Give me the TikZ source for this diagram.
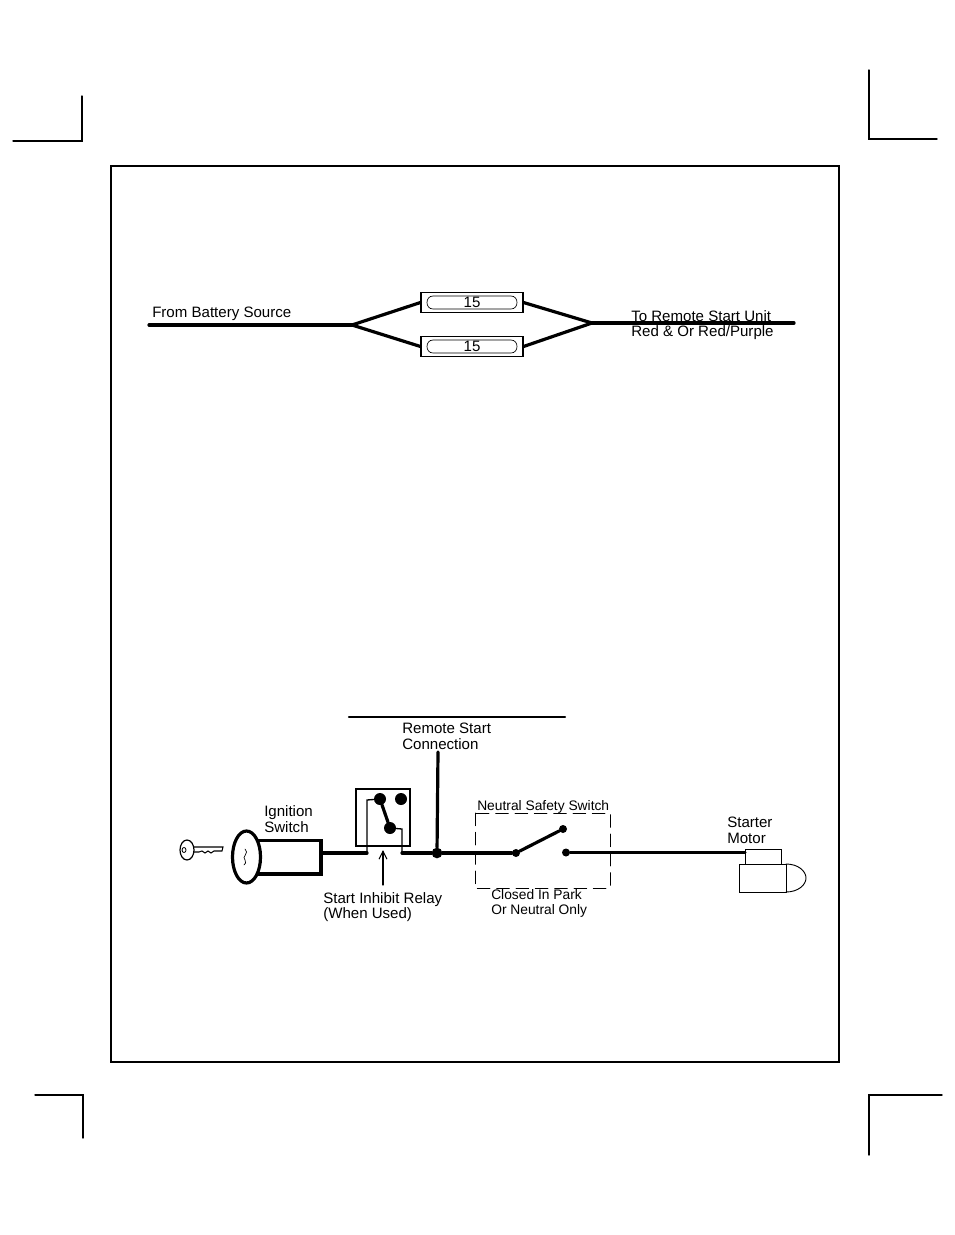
\documentclass[tikz,border=0pt]{standalone}
\usepackage{fontspec}
\setmainfont{Liberation Sans}
\usetikzlibrary{arrows.meta}
\tikzset{
    wire/.style={line width=2.4pt},
    thinwire/.style={line width=0.8pt},
    mark line/.style={line width=1pt},
    dot/.style={circle,fill=black,inner sep=0pt,minimum size=#1},
    dot/.default=6pt,
    label/.style={anchor=west,inner sep=0pt,text height=8pt,text depth=0pt,font=\fontsize{11.3}{11.3}\selectfont},
    small label/.style={label,font=\fontsize{10.35}{10.35}\selectfont},
    fuse/.style={draw,line width=0.8pt,minimum width=76.5pt,minimum height=14.5pt,inner sep=0pt,font=\fontsize{11.3}{11.3}\selectfont}
}
\begin{document}
\begin{tikzpicture}[x=0.75pt,y=-0.75pt,cap=round,>=latex]
            \useasboundingbox (0,0) rectangle (954,1235);
            \fill[white] (0,0) rectangle (954,1235);

            % crop marks
            \draw[mark line] (82,96) -- (82,141) -- (13,141);
            \draw[mark line] (869,70) -- (869,139) -- (937,139);
            \draw[mark line] (35,1095) -- (83,1095) -- (83,1138);
            \draw[mark line] (942,1095) -- (869,1095) -- (869,1155);

            % frame
            \draw[mark line] (111,166) rectangle (839,1062);

            % fuses
            \node[fuse] (fuseA) at (472,302.5) {15};
            \node[fuse] (fuseB) at (472,346.5) {15};
            \foreach \y in {302.5,346.5} {
                \draw[line width=0.5pt] (433,\y-6.5) -- (511,\y-6.5) .. controls (519,\y-6.5) and (519,\y+6.5) .. (511,\y+6.5) -- (433,\y+6.5) .. controls (425,\y+6.5) and (425,\y-6.5) .. (433,\y-6.5);
            }

            % top wires
            \coordinate (batt) at (149,325);
            \coordinate (forkL) at (352,325);
            \coordinate (forkR) at (592,323);
            \coordinate (unit) at (794,323);
            \draw[wire] (batt) -- (forkL);
            \draw[wire] (forkL) -- (fuseA.west);
            \draw[wire] (forkL) -- (fuseB.west);
            \draw[wire] (fuseA.east) -- (forkR);
            \draw[wire] (fuseB.east) -- (forkR);
            \draw[wire] (forkR) -- (unit);

            % top text
            \node[label] (battText) at (152,312.5) {From Battery Source};
            \node[label] (unitTextA) at (631,316) {To Remote Start Unit};
            \node[label] (unitTextB) at (631,331) {Red \& Or Red/Purple};

            % remote start bar
            \coordinate (barL) at (349,717);
            \coordinate (barR) at (565,717);
            \draw[line width=1.6pt] (barL) -- (barR);
            \node[label] (remoteA) at (402,728.5) {Remote Start};
            \node[label] (remoteB) at (402,744) {Connection};

            % key
            \draw[line width=0.9pt] (187,850) ellipse (7 and 10);
            \draw[line width=0.6pt] (184,850) ellipse (2 and 2.5);
            \draw[line width=0.8pt] (194,847) -- (223,847) -- (222,851) -- (214,851) -- (211,853) -- (208,851) -- (205,853) -- (202,851) -- (199,852) -- (194,852);

            % ignition switch
            \draw[wire] (257,840.5) -- (321,840.5) -- (321,874) -- (257,874);
            \draw[wire,fill=white] (246.5,857) ellipse (14 and 26);
            \draw[line width=0.5pt] (245,849) .. controls (250,853) and (241,857) .. (245,860) .. controls (247,862) and (245,864) .. (244,865);
            \coordinate (ignOut) at (321,853);
            \node[label] (ignA) at (264,811) {Ignition};
            \node[label] (ignB) at (264,827) {Switch};

            % relay
            \draw[mark line] (356,789) rectangle (410,846);
            \node[dot=9pt] (relayA) at (380,799) {};
            \node[dot=9pt] (relayB) at (401,799) {};
            \node[dot=9pt] (relayC) at (390,828) {};
            \coordinate (relayIn) at (367,853);
            \coordinate (relayOut) at (402,853);
            \draw[line width=1pt] (relayIn) -- (367,800) -- (relayA);
            \draw[line width=1pt] (relayC) -- (402,829) -- (relayOut);
            \draw[wire] (relayA) -- (relayC);
            \draw[wire] (ignOut) -- (relayIn);
            \draw[thinwire,-{Straight Barb[length=6pt,width=6pt]}] (383,885) -- (383,850);
            \node[label] (relayTextA) at (323,898) {Start Inhibit Relay};
            \node[label] (relayTextB) at (323,913.5) {(When Used)};

            % junction and safety switch
            \node[dot=8pt] (junction) at (437,853) {};
            \node[dot=6pt] (swA) at (516,853) {};
            \node[dot=6pt] (swB) at (563,829) {};
            \node[dot=6pt] (swC) at (566,852.5) {};
            \coordinate (remoteTop) at (438,752);
            \draw[wire] (remoteTop) -- (junction);
            \draw[wire] (relayOut) -- (junction);
            \draw[wire] (junction) -- (swA);
            \draw[wire] (swA) -- (swB);
            \draw[dash pattern=on 9.5pt off 5pt,line width=0.6pt] (475,813) rectangle (610,888);
            \node[small label] (nssText) at (477,805) {Neutral Safety Switch};
            \node[small label] (parkA) at (491,894.5) {Closed In Park};
            \node[small label] (parkB) at (491,909) {Or Neutral Only};

            % starter motor
            \draw[line width=0.7pt] (745,849) rectangle (781,864);
            \draw[line width=0.7pt] (739,864) rectangle (786,892);
            \draw[line width=0.7pt] (786,864) .. controls (798,864) and (806,871) .. (806,878) .. controls (806,885) and (798,892) .. (786,892);
            \coordinate (starterIn) at (745,852.5);
            \draw[wire] (swC) -- (starterIn);
            \node[label] (starterA) at (727,822) {Starter};
            \node[label] (starterB) at (727,838) {Motor};

        \end{tikzpicture}
\end{document}
